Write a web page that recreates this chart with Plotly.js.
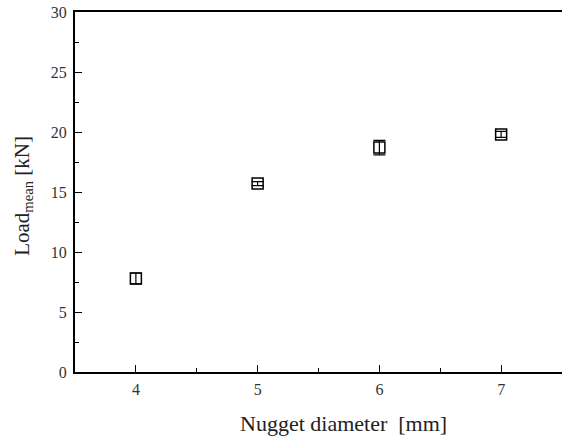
<!DOCTYPE html>
<html>
<head>
<meta charset="utf-8">
<script src="https://cdn.plot.ly/plotly-3.0.1.min.js"></script>
<style>html,body{margin:0;padding:0;background:#fff;}#chart{width:562px;height:438px;}</style>
</head>
<body>
<div id="chart"></div>
<script>
const diameters = [4, 5, 6, 7];
const loadMean = [7.8, 15.7, 18.7, 19.8];
const loadErr = [0.45, 0.17, 0.6, 0.25];
const xTickVals = [4, 5, 6, 7];
const yTickVals = [0, 5, 10, 15, 20, 25, 30];
const xTitle = 'Nugget diameter  [mm]';
const yTitle = 'Load<sub>mean</sub> [kN]';

const font = "Liberation Serif, Times New Roman, serif";

const trace = {
  x: diameters,
  y: loadMean,
  type: 'scatter',
  mode: 'markers',
  marker: {symbol: 'square-open', size: 11, color: '#000', line: {width: 1.5, color: '#000'}},
  error_y: {type: 'data', array: loadErr, visible: true, color: '#000', thickness: 1.2, width: 6},
  showlegend: false
};

const layout = {
  width: 562, height: 438,
  margin: {l: 75, r: 0, t: 12, b: 66},
  paper_bgcolor: '#fff', plot_bgcolor: '#fff',
  font: {family: font, color: '#222', size: 16},
  xaxis: {
    range: [3.5, 7.5],
    tickvals: xTickVals,
    ticks: 'inside', ticklen: 7, tickwidth: 1, tickcolor: '#000',
    minor: {dtick: 0.5, ticks: 'inside', ticklen: 4, tickwidth: 1, tickcolor: '#000'},
    showline: true, linecolor: '#000', linewidth: 2, mirror: true,
    showgrid: false, zeroline: false,
    ticklabelstandoff: 2,
    tickfont: {family: font, size: 16, color: '#333'}
  },
  yaxis: {
    range: [0, 30],
    tickvals: yTickVals,
    ticks: 'inside', ticklen: 7, tickwidth: 1, tickcolor: '#000',
    minor: {dtick: 2.5, ticks: 'inside', ticklen: 4, tickwidth: 1, tickcolor: '#000'},
    showline: true, linecolor: '#000', linewidth: 2,
    showgrid: false, zeroline: false,
    ticklabelstandoff: 3,
    tickfont: {family: font, size: 16, color: '#333'}
  },
  annotations: [
    {text: xTitle, xref: 'paper', yref: 'paper', x: 0.552, y: -0.183,
     xanchor: 'center', yanchor: 'bottom', showarrow: false,
     font: {family: font, size: 22, color: '#222'}},
    {text: yTitle, xref: 'paper', yref: 'paper', x: -0.107, y: 0.489,
     xanchor: 'center', yanchor: 'middle', showarrow: false, textangle: -90,
     font: {family: font, size: 21, color: '#222'}}
  ]
};

Plotly.newPlot('chart', [trace], layout, {displayModeBar: false, staticPlot: true});
</script>
</body>
</html>
